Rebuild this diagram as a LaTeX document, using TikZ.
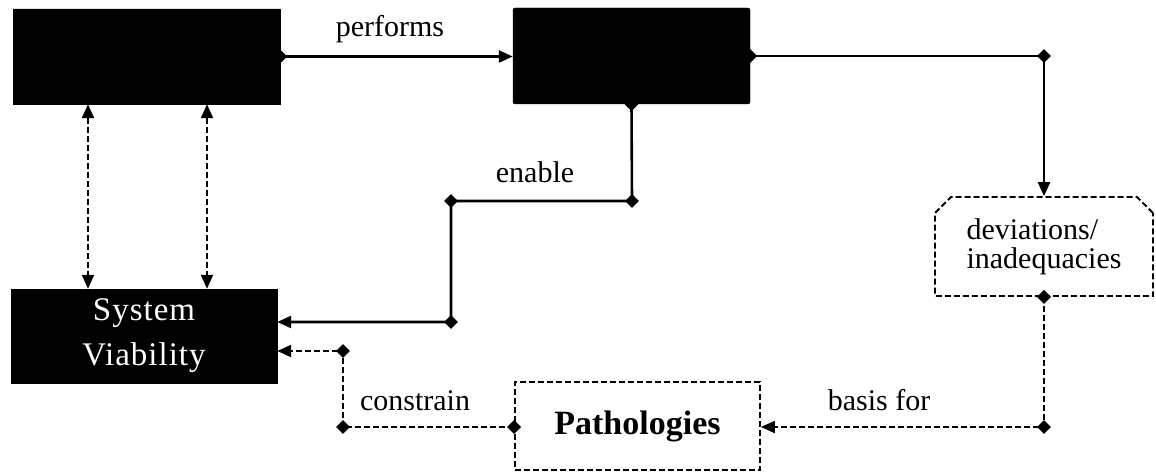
\documentclass[tikz,border=0pt]{standalone}
\usepackage{fontspec}
\setmainfont{Liberation Serif}
\newfontfamily\svfont[LetterSpace=3]{Liberation Serif}
\usetikzlibrary{arrows.meta,shapes.geometric,shapes.misc}
\begin{document}
\begin{tikzpicture}[x=1pt,y=-1pt,
  lbl/.style={font=\fontsize{30}{32}\selectfont, inner sep=0pt, anchor=base},
  blk/.style={fill=black, draw=black, inner sep=0pt},
  dbox/.style={draw=black, line width=1.8pt, dash pattern=on 6pt off 3pt},
  dmd/.style={diamond, fill=black, draw=none, inner sep=0pt, minimum size=14pt},
  tip/.style={-{Triangle[length=14pt,width=12pt]}},
  solidc/.style={line width=2.6pt, tip},
  dashc/.style={line width=2.1pt, dash pattern=on 6pt off 3pt, tip},
  dashcc/.style={line width=2.1pt, dash pattern=on 6pt off 3pt,
     {Triangle[length=14pt,width=12pt]}-{Triangle[length=14pt,width=12pt]}},
]
\useasboundingbox (0,0) rectangle (1156,473);

% boxes
\node[blk, chamfered rectangle, chamfered rectangle corners=north east,
      chamfered rectangle xsep=10pt, chamfered rectangle ysep=10pt,
      minimum width=267pt, minimum height=95pt] (A) at (146.5,56.5) {};
\node[blk, rounded corners=2pt, minimum width=237pt, minimum height=96pt] (B) at (631.5,56) {};
\node[dbox, chamfered rectangle, chamfered rectangle corners={north west,north east},
      chamfered rectangle xsep=8pt, chamfered rectangle ysep=8pt,
      minimum width=218pt, minimum height=99pt, align=left,
      font=\fontsize{30}{29}\selectfont] (C) at (1044,246.5) {deviations/\\inadequacies};
\node[blk, minimum width=266pt, minimum height=94pt, text=white, align=center,
      font=\svfont\fontsize{33}{45}\selectfont] (D) at (144,336) {System\\Viability};
\node[dbox, minimum width=245pt, minimum height=88pt,
      font=\bfseries\fontsize{34}{36}\selectfont] (E) at (637.5,426) {Pathologies};

% helper coordinates
\coordinate (x1) at (88,0);
\coordinate (x2) at (207,0);

% diamonds
\node[dmd] (sA) at (A.east) {};
\node[dmd] (sB) at (B.east) {};
\node[dmd] (sB2) at (B.south) {};
\node[dmd] (d1) at (1044,56) {};
\node[dmd] (d2) at (632,201) {};
\node[dmd] (d3) at (451,201) {};
\node[dmd] (d4) at (451,322) {};
\node[dmd] (sC) at (C.south) {};
\node[dmd] (d5) at (1044,427) {};
\node[dmd] (sE) at (E.west |- d5) {};
\node[dmd] (d6) at (343,427) {};
\node[dmd] (d7) at (343,351) {};

% connectors
\draw[solidc] (sA.center) -- (sA.center -| B.west);
\draw[solidc] (sB.center) -- (d1.center) -- (C.north);
\draw[solidc] (sB2.center) -- (d2.center) -- (d3.center) -- (d4.center) -- (d4 -| D.east);
\draw[dashc] (sC.center) -- (d5.center) -- (d5 -| E.east);
\draw[dashc] (sE.center) -- (d6.center) -- (d7.center) -- (d7 -| D.east);
\draw[dashcc] (A.south -| x1) -- (D.north -| x1);
\draw[dashcc] (A.south -| x2) -- (D.north -| x2);

% labels
\node[lbl] (l1) at (390,37) {performs};
\node[lbl] (l2) at (535,183) {enable};
\node[lbl] (l3) at (415,410) {constrain};
\node[lbl] (l4) at (879,410) {basis for};
\end{tikzpicture}
\end{document}
